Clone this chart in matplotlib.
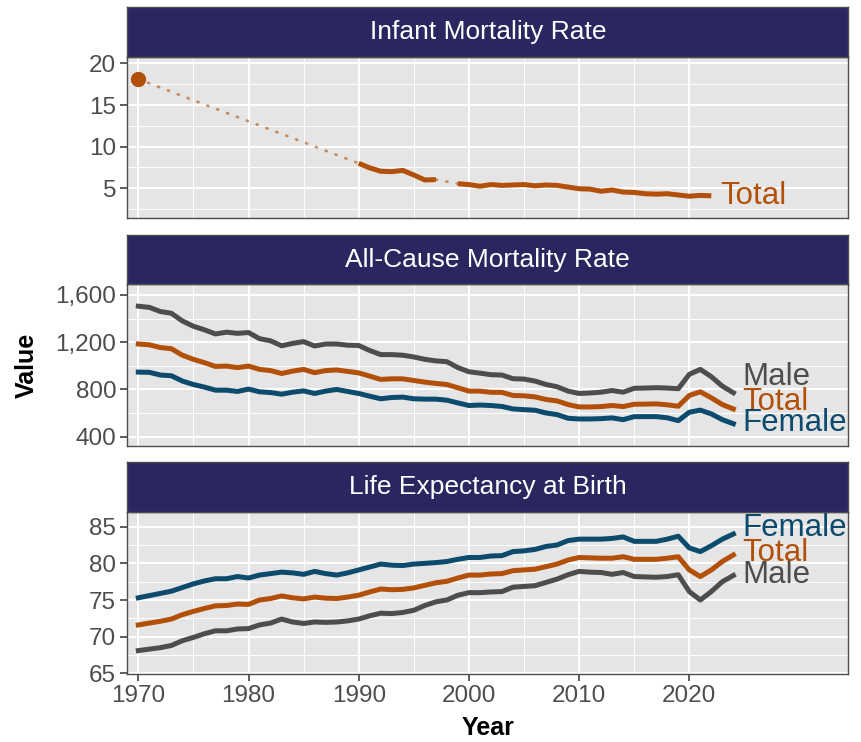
import numpy as np
import pandas as pd
import matplotlib
matplotlib.use("Agg")
import matplotlib.pyplot as plt

plt.rcParams["font.family"] = ["Liberation Sans", "DejaVu Sans"]

# --- Data ---
years = list(range(1970, 2025))

infant_years = [1970] + list(range(1990, 1998)) + list(range(1999, 2023))
infant_total = [18.1,
                8.0, 7.45, 7.05, 7.0, 7.15, 6.6, 6.0, 6.05,
                5.55, 5.45, 5.25, 5.45, 5.35, 5.4, 5.45, 5.3, 5.4, 5.35,
                5.15, 4.95, 4.9, 4.65, 4.8, 4.55, 4.5, 4.35, 4.3, 4.35,
                4.2, 4.05, 4.15, 4.1]

mort_male = [1505, 1495, 1460, 1445, 1380, 1335, 1305, 1270, 1285, 1275,
             1282, 1230, 1212, 1170, 1190, 1205, 1168, 1185, 1185, 1175,
             1172, 1130, 1095, 1095, 1090, 1075, 1055, 1042, 1035, 985,
             950, 938, 925, 922, 891, 888, 871, 842, 823, 786,
             766, 770, 777, 791, 777, 810, 812, 815, 812, 806,
             928, 970, 908, 828, 772]
mort_total = [1185, 1178, 1155, 1145, 1090, 1055, 1027, 995, 998, 985,
              998, 970, 960, 935, 955, 970, 942, 960, 965, 953,
              940, 913, 885, 890, 890, 876, 862, 851, 842, 814,
              786, 786, 776, 775, 749, 746, 737, 715, 703, 672,
              652, 652, 655, 664, 655, 675, 676, 678, 670, 658,
              749, 780, 729, 672, 635]
mort_female = [947, 945, 922, 916, 871, 842, 820, 794, 794, 783,
               803, 780, 774, 760, 777, 788, 766, 786, 800, 783,
               766, 743, 721, 732, 735, 721, 718, 718, 709, 686,
               664, 668, 664, 656, 635, 629, 624, 601, 587, 556,
               550, 550, 553, 559, 544, 570, 570, 570, 560, 536,
               607, 625, 593, 544, 510]

le_female = [75.3, 75.6, 75.9, 76.2, 76.7, 77.2, 77.6, 77.9, 77.9, 78.2,
             78.0, 78.4, 78.6, 78.8, 78.7, 78.5, 78.9, 78.6, 78.4, 78.7,
             79.1, 79.5, 79.9, 79.75, 79.7, 79.9, 80.0, 80.1, 80.25, 80.55,
             80.8, 80.8, 81.0, 81.05, 81.6, 81.7, 81.9, 82.3, 82.5, 83.1,
             83.3, 83.3, 83.3, 83.4, 83.6, 83.0, 83.0, 83.0, 83.3, 83.7,
             82.1, 81.6, 82.4, 83.3, 84.0]
le_total = [71.6, 71.85, 72.1, 72.4, 73.0, 73.45, 73.85, 74.2, 74.25, 74.45,
            74.4, 75.0, 75.2, 75.55, 75.3, 75.15, 75.4, 75.25, 75.2, 75.4,
            75.65, 76.1, 76.5, 76.4, 76.45, 76.65, 77.0, 77.35, 77.55, 78.0,
            78.4, 78.4, 78.55, 78.6, 79.0, 79.1, 79.2, 79.55, 79.9, 80.45,
            80.8, 80.75, 80.7, 80.7, 80.9, 80.55, 80.55, 80.55, 80.7, 80.9,
            79.1, 78.2, 79.1, 80.25, 81.15]
le_male = [68.1, 68.3, 68.5, 68.8, 69.45, 69.9, 70.4, 70.8, 70.8, 71.05,
           71.1, 71.6, 71.85, 72.4, 72.0, 71.8, 72.0, 71.95, 72.0, 72.15,
           72.4, 72.85, 73.2, 73.15, 73.3, 73.6, 74.25, 74.75, 75.0, 75.65,
           76.0, 76.0, 76.1, 76.15, 76.75, 76.85, 76.95, 77.4, 77.85, 78.45,
           78.9, 78.8, 78.75, 78.5, 78.75, 78.2, 78.15, 78.1, 78.2, 78.45,
           76.15, 75.0, 76.15, 77.5, 78.35]

panel_titles = ["Infant Mortality Rate", "All-Cause Mortality Rate", "Life Expectancy at Birth"]
x_ticks = [1970, 1980, 1990, 2000, 2010, 2020]

# label heights (nudged apart a bit like ggrepel)
mort_label_y = {"Male": 905, "Total": 693, "Female": 515}
le_label_y = {"Female": 84.8, "Total": 81.4, "Male": 78.4}

col = {"Total": "#B2500A", "Male": "#4D4D4D", "Female": "#0C4A6E"}
strip_col = "#2A2660"
tick_col = "#4D4D4D"

# --- Figure layout ---
fig = plt.figure(figsize=(8.61, 7.42), dpi=100)
W, H = 861, 742
left, right = 127.3, 848.3
# (strip top, panel top, panel bottom) in pixels
rows = [(7.3, 56.7, 218.3), (235.0, 284.0, 445.7), (462.3, 512.3, 673.7)]
ylims = [(1.4, 20.8), (323.7, 1693), (64.95, 86.96)]
yticks = [[5, 10, 15, 20], [400, 800, 1200, 1600], [65, 70, 75, 80, 85]]

axes = []
for i, (s_top, p_top, p_bot) in enumerate(rows):
    ax = fig.add_axes([left / W, 1 - p_bot / H, (right - left) / W, (p_bot - p_top) / H])
    ax.set_facecolor("#E5E5E5")
    ax.set_xlim(1969.0, 2034.43)
    ax.set_ylim(*ylims[i])
    ax.set_xticks(x_ticks)
    ax.set_xticks(list(range(1975, 2020, 10)), minor=True)
    step = yticks[i][1] - yticks[i][0]
    ax.set_yticks(yticks[i])
    minor_y = [t - step / 2 for t in yticks[i]] + [yticks[i][-1] + step / 2]
    ax.set_yticks([m for m in minor_y if ylims[i][0] < m < ylims[i][1]], minor=True)
    ax.grid(True, which="major", color="white", lw=1.4)
    ax.grid(True, which="minor", color="white", lw=0.7)
    ax.set_axisbelow(True)
    for sp in ax.spines.values():
        sp.set_color("#4D4D4D")
        sp.set_linewidth(1.0)
    ax.tick_params(which="major", length=5, width=1.1, color="#333333",
                   labelsize=17.5, labelcolor=tick_col, pad=3)
    ax.tick_params(which="minor", length=0)
    if i < 2:
        ax.tick_params(axis="x", labelbottom=False, length=0)
    axes.append(ax)

    sax = fig.add_axes([left / W, 1 - p_top / H, (right - left) / W, (p_top - s_top) / H])
    sax.set_facecolor(strip_col)
    sax.set_xticks([])
    sax.set_yticks([])
    for sp in sax.spines.values():
        sp.set_color("#4D4D4D")
        sp.set_linewidth(1.0)
    sax.text(0.5, 0.5, panel_titles[i], color="white", fontsize=19,
             ha="center", va="center", transform=sax.transAxes)

# --- Panel 1: infant mortality ---
ax = axes[0]
inf = pd.Series(infant_total, index=infant_years).reindex(range(1970, 2023))
ax.plot(infant_years, infant_total, color=col["Total"], lw=2.0, alpha=0.6,
        linestyle=(0, (0.4, 3.4)), dash_capstyle="round")
ax.plot(inf.index, inf.values, color=col["Total"], lw=3.6, solid_capstyle="butt")
# isolated observations shown as points
vals = inf.values
for k, yr in enumerate(inf.index):
    prev_nan = k == 0 or np.isnan(vals[k - 1])
    next_nan = k == len(vals) - 1 or np.isnan(vals[k + 1])
    if not np.isnan(vals[k]) and prev_nan and next_nan:
        ax.plot(yr, vals[k], "o", color=col["Total"], ms=10)
ax.text(infant_years[-1] + 0.8, infant_total[-1], "Total", color=col["Total"],
        fontsize=22.5, ha="left", va="center")

# --- Panel 2: all-cause mortality ---
ax = axes[1]
for name, series in [("Male", mort_male), ("Total", mort_total), ("Female", mort_female)]:
    ax.plot(years, series, color=col[name], lw=3.6)
    ax.text(years[-1] + 0.8, mort_label_y[name], name, color=col[name],
            fontsize=22.5, ha="left", va="center")
ax.yaxis.set_major_formatter(matplotlib.ticker.FuncFormatter(lambda v, p: f"{int(v):,}"))

# --- Panel 3: life expectancy ---
ax = axes[2]
for name, series in [("Male", le_male), ("Total", le_total), ("Female", le_female)]:
    ax.plot(years, series, color=col[name], lw=3.6)
    ax.text(years[-1] + 0.8, le_label_y[name], name, color=col[name],
            fontsize=22.5, ha="left", va="center")

# --- Axis titles ---
fig.text(27 / W, 1 - 365 / H, "Value", rotation=90, fontsize=18, fontweight="bold",
         ha="center", va="center")
fig.text((left + right) / 2 / W, 1 - 728 / H, "Year", fontsize=18, fontweight="bold",
         ha="center", va="center")

fig.savefig("out.png", dpi=100)
